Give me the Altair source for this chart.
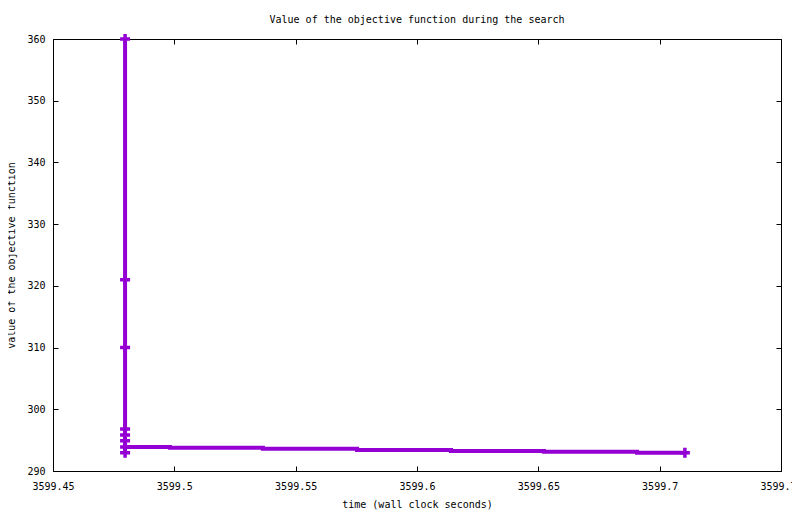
import altair as alt
import pandas as pd

# step-line data (wall clock seconds, objective value), in drawing order
times = [3599.4797, 3599.4797, 3599.4797, 3599.4797, 3599.4797, 3599.4797, 3599.4797, 3599.4797,
         3599.4982, 3599.5365, 3599.5753, 3599.6140, 3599.6523, 3599.6907, 3599.7104]
values = [360, 321, 310, 296.8, 295.85, 294.9, 292.95, 293.9,
          293.75, 293.6, 293.4, 293.25, 293.1, 292.95, 292.95]

# points drawn with a "+" marker
marker_times = [3599.4797, 3599.4797, 3599.4797, 3599.4797, 3599.4797, 3599.4797, 3599.4797, 3599.4797, 3599.7104]
marker_values = [360, 321, 310, 296.8, 295.85, 294.9, 293.9, 292.95, 292.95]

x_ticks = [3599.45, 3599.5, 3599.55, 3599.6, 3599.65, 3599.7, 3599.75]
y_ticks = [290, 300, 310, 320, 330, 340, 350, 360]

FONT = "DejaVu Sans Mono"
COLOR = "#9400D3"

line_df = pd.DataFrame({"t": times, "v": values, "i": list(range(len(times)))})
mark_df = pd.DataFrame({"t": marker_times, "v": marker_values})

xscale = alt.Scale(domain=[3599.45, 3599.75], nice=False, zero=False)
yscale = alt.Scale(domain=[290, 360], nice=False, zero=False)

line = alt.Chart(line_df).mark_line(
    interpolate="step-after", color=COLOR, strokeWidth=4
).encode(
    x=alt.X("t:Q", scale=xscale, axis=alt.Axis(
        orient="bottom", values=x_ticks, format="~f", offset=-5, tickSize=5,
        domain=False, grid=False, labelPadding=10, title="time (wall clock seconds)",
        titlePadding=8, labelFlush=False, labelOverlap=False)),
    y=alt.Y("v:Q", scale=yscale, axis=alt.Axis(
        orient="left", values=y_ticks, format="d", offset=-5, tickSize=5,
        domain=False, grid=False, labelPadding=8, title="value of the objective function",
        titlePadding=10, labelFlush=False, labelOverlap=False)),
    order="i:Q",
)

points = alt.Chart(mark_df).mark_point(
    shape="M-1,0H1M0,-1V1", size=100, filled=False, color=COLOR,
    strokeWidth=3.5, opacity=1
).encode(
    x=alt.X("t:Q", scale=xscale, axis=alt.Axis(
        orient="top", values=x_ticks, offset=-5, tickSize=5, domain=False,
        grid=False, labels=False, title=None)),
    y=alt.Y("v:Q", scale=yscale, axis=alt.Axis(
        orient="right", values=y_ticks, offset=-5, tickSize=5, domain=False,
        grid=False, labels=False, title=None)),
)

chart = alt.layer(line, points).resolve_axis(
    x="independent", y="independent"
).properties(
    width=728, height=432,
    title=alt.TitleParams(
        "Value of the objective function during the search",
        fontSize=10, font=FONT, fontWeight="normal", anchor="middle",
        frame="group", offset=2, color="black"),
    autosize=alt.AutoSizeParams(type="none"),
    padding={"left": 45, "top": 31, "right": 11, "bottom": 43},
    background="white",
).configure_view(
    stroke="black", strokeWidth=1
).configure_axis(
    labelFont=FONT, titleFont=FONT, labelFontSize=10, titleFontSize=10,
    titleFontWeight="normal", labelColor="black", titleColor="black",
    tickColor="black", tickWidth=1,
)

chart.save("out.html", embed_options={"renderer": "svg", "actions": False})
